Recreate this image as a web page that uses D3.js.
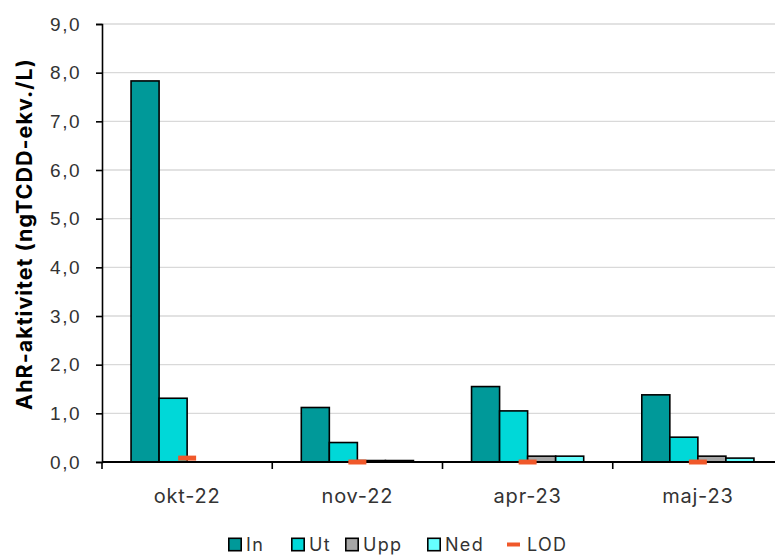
<!DOCTYPE html>
<html>
<head>
<meta charset="utf-8">
<script src="https://cdn.jsdelivr.net/npm/d3@7"></script>
<style>
  html, body { margin: 0; padding: 0; background: #fff; }
  svg { display: block; font-family: Inter, "Open Sans", sans-serif; }
</style>
</head>
<body>
<svg id="chart" width="775" height="556"></svg>
<script>
// Sampling months
const categories = ["okt-22", "nov-22", "apr-23", "maj-23"];
// Bar series (ngTCDD-ekv./L); null = no sample
const seriesNames = ["In", "Ut", "Upp", "Ned"];
const inValues  = [7.83, 1.12, 1.55, 1.38];
const utValues  = [1.31, 0.40, 1.05, 0.51];
const uppValues = [null, 0.03, 0.12, 0.12];
const nedValues = [null, 0.03, 0.12, 0.08];
// Limit of detection per month
const lodValues = [0.08, 0.0, 0.0, 0.0];
const yTicks = [0, 1, 2, 3, 4, 5, 6, 7, 8, 9];

const colors = { In: "#009999", Ut: "#00d8d8", Upp: "#a6a6a6", Ned: "#66ffff", LOD: "#f0582a" };
const seriesValues = [inValues, utValues, uppValues, nedValues];

const svg = d3.select("#chart");
const margin = { left: 102, top: 24, right: -8, bottom: 94 };
const W = 775, H = 556;

const x = d3.scaleBand()
  .domain(categories)
  .range([margin.left, W - margin.right])
  .paddingInner(0).paddingOuter(0);

const xInner = d3.scaleBand()
  .domain(seriesNames)
  .range([0, x.bandwidth()])
  .paddingOuter(1.036).paddingInner(0);

const y = d3.scaleLinear().domain([0, 9]).range([H - margin.bottom, margin.top]);

const fmt = v => d3.format(".1f")(v).replace(".", ",");

// Horizontal gridlines
svg.append("g")
  .selectAll("line")
  .data(yTicks.filter(t => t > 0))
  .join("line")
  .attr("x1", margin.left).attr("x2", W)
  .attr("y1", d => y(d)).attr("y2", d => y(d))
  .attr("stroke", "#d9d9d9").attr("stroke-width", 1.3);

// Bars
const groups = svg.append("g")
  .selectAll("g")
  .data(categories)
  .join("g")
  .attr("transform", d => `translate(${x(d)},0)`);

groups.selectAll("rect")
  .data((c, i) => seriesNames.map((s, j) => ({ s, v: seriesValues[j][i] })).filter(d => d.v !== null))
  .join("rect")
  .attr("x", d => xInner(d.s))
  .attr("width", xInner.bandwidth())
  .attr("y", d => y(d.v))
  .attr("height", d => y(0) - y(d.v))
  .attr("fill", d => colors[d.s])
  .attr("stroke", "#000")
  .attr("stroke-width", 1.6);

// Y axis
const yAxis = svg.append("g")
  .attr("transform", `translate(${margin.left},0)`)
  .call(d3.axisLeft(y).tickValues(yTicks).tickFormat(fmt).tickSizeOuter(0).tickSize(6).tickPadding(15));
yAxis.select(".domain").attr("stroke", "#000").attr("stroke-width", 1.6);
yAxis.selectAll(".tick line").attr("stroke", "#000").attr("stroke-width", 1.6);
yAxis.selectAll("text").attr("font-size", 19).attr("letter-spacing", 1.5).attr("fill", "#333");

// X axis: ticks at category boundaries
const xg = svg.append("g");
xg.append("line")
  .attr("x1", margin.left).attr("x2", W)
  .attr("y1", y(0)).attr("y2", y(0))
  .attr("stroke", "#000").attr("stroke-width", 1.8);
xg.selectAll("line.b")
  .data(categories)
  .join("line")
  .attr("class", "b")
  .attr("x1", d => x(d)).attr("x2", d => x(d))
  .attr("y1", y(0)).attr("y2", y(0) + 7)
  .attr("stroke", "#000").attr("stroke-width", 1.6);
xg.selectAll("text")
  .data(categories)
  .join("text")
  .attr("x", d => x(d) + x.bandwidth() / 2)
  .attr("y", y(0) + 41)
  .attr("text-anchor", "middle")
  .attr("font-size", 20)
  .attr("letter-spacing", 0.8)
  .attr("fill", "#333")
  .text(d => d);

// LOD markers
svg.append("g")
  .selectAll("line")
  .data(categories.map((c, i) => ({ c, v: lodValues[i] })))
  .join("line")
  .attr("x1", d => x(d.c) + x.bandwidth() / 2 - 9)
  .attr("x2", d => x(d.c) + x.bandwidth() / 2 + 9)
  .attr("y1", d => y(d.v)).attr("y2", d => y(d.v))
  .attr("stroke", colors.LOD).attr("stroke-width", 5);

// Y axis title
svg.append("text")
  .attr("transform", `translate(32,234) rotate(-90)`)
  .attr("text-anchor", "middle")
  .attr("font-size", 21.5)
  .attr("font-weight", 700)
  .attr("letter-spacing", 1)
  .attr("fill", "#000")
  .text("AhR-aktivitet (ngTCDD-ekv./L)");

// Legend
const legendItems = [
  { name: "In", x: 228 }, { name: "Ut", x: 291 }, { name: "Upp", x: 345 },
  { name: "Ned", x: 427 }, { name: "LOD", x: 507 }
];
const lg = svg.append("g");
legendItems.forEach(it => {
  const g = lg.append("g").attr("transform", `translate(${it.x},544.5)`);
  if (it.name === "LOD") {
    g.append("line").attr("x1", 0).attr("x2", 13).attr("y1", 0).attr("y2", 0)
      .attr("stroke", colors.LOD).attr("stroke-width", 4);
  } else {
    g.append("rect").attr("x", 0.8).attr("y", -6.2).attr("width", 12.4).attr("height", 12.4)
      .attr("fill", colors[it.name]).attr("stroke", "#000").attr("stroke-width", 1.6);
  }
  g.append("text").attr("x", it.name === "LOD" ? 20 : 18).attr("y", 6.3)
    .attr("font-size", 18).attr("letter-spacing", 1.3).attr("fill", "#333").text(it.name);
});
</script>
</body>
</html>
